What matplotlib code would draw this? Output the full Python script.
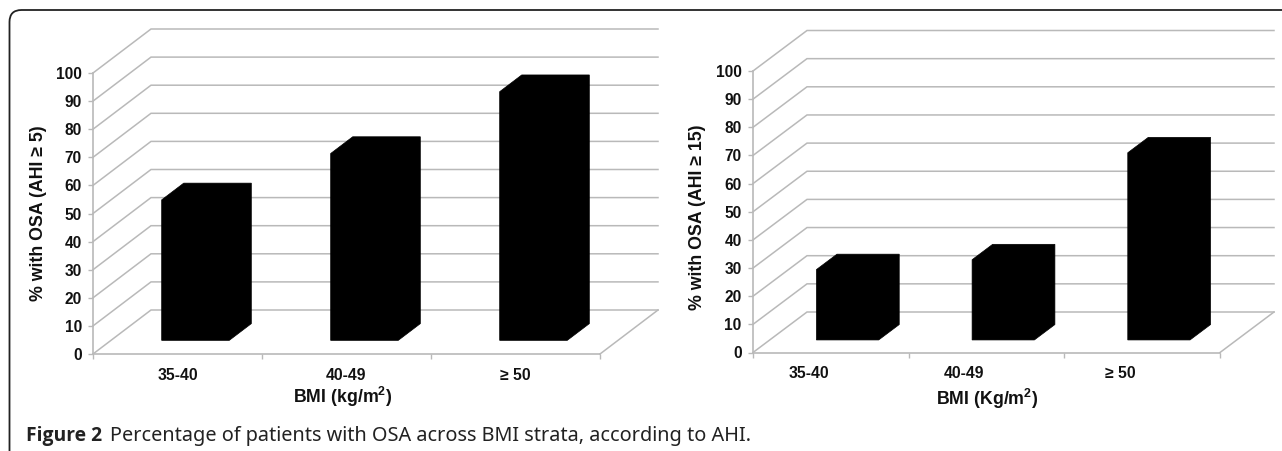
import matplotlib
matplotlib.use("Agg")
import matplotlib.pyplot as plt
from matplotlib.patches import Polygon, PathPatch
from matplotlib.path import Path

categories = ["35-40", "40-49", "\u2265 50"]
values_ahi5 = [50, 66.5, 88.5]
values_ahi15 = [25, 28.5, 66.5]
y_ticks = list(range(0, 101, 10))
ylabels = ["% with OSA (AHI \u2265 5)", "% with OSA (AHI \u2265 15)"]
xlabels = ["BMI (kg/m$^{\\mathbf{2}}$)", "BMI (Kg/m$^{\\mathbf{2}}$)"]

W, H = 1282, 451
GRID = "#b9b9b9"
TXT = "#111111"
plt.rcParams["font.family"] = ["Liberation Sans", "DejaVu Sans"]
plt.rcParams["mathtext.fontset"] = "custom"
plt.rcParams["mathtext.bf"] = "Liberation Sans:bold"
fig = plt.figure(figsize=(W / 100, H / 100), dpi=100, facecolor="white")


def panel(x0, x1, y0, y100, dx_px, dy_px, values, ylabel, xlabel,
          ylabel_xy, xlabel_xy, label_shift_px):
    ax = fig.add_axes([x0 / W, 1 - y0 / H, (x1 - x0) / W, (y0 - y100) / H])
    ax.set_xlim(0, 3)
    ax.set_ylim(0, 100)
    ax.patch.set_visible(False)
    sx = 3 / (x1 - x0)
    sy = 100 / (y0 - y100)
    ddx, ddy = dx_px * sx, dy_px * sy

    def pt(x, y, d):
        return (x + d * ddx, y + d * ddy)

    for t in y_ticks:
        ax.plot(*zip(pt(0, t, 0), pt(0, t, 1), pt(3, t, 1)), color=GRID, lw=1.1,
                clip_on=False, solid_joinstyle="miter", zorder=1)
    ax.plot(*zip(pt(3, 0, 0), pt(3, 0, 1)), color=GRID, lw=1.1, clip_on=False, zorder=1)

    d0, d1 = 0.31, 0.69
    for i, v in enumerate(values):
        l, r = i + 0.3, i + 0.7
        poly = [pt(l, 0, d0), pt(r, 0, d0), pt(r, 0, d1), pt(r, v, d1),
                pt(l, v, d1), pt(l, v, d0)]
        ax.add_patch(Polygon(poly, closed=True, facecolor="black", edgecolor="black",
                             lw=0.5, clip_on=False, zorder=3))

    for s in ("top", "right"):
        ax.spines[s].set_visible(False)
    for s in ("left", "bottom"):
        ax.spines[s].set_color(GRID)
        ax.spines[s].set_linewidth(1.2)
    ax.set_yticks(y_ticks)
    ax.set_xticks([0, 1, 2, 3])
    ax.set_xticklabels([])
    shift = label_shift_px * sx
    ax.set_xticks([i + 0.5 + shift for i in range(3)], minor=True)
    ax.set_xticklabels(categories, minor=True, fontsize=11.3, fontweight="bold", color=TXT)
    ax.tick_params(axis="x", which="minor", length=0, pad=10)
    ax.tick_params(axis="both", which="major", color=GRID, width=1.0, length=3.6)
    ax.tick_params(axis="y", labelsize=11.2, pad=4.5, labelcolor=TXT)
    for lab in ax.get_yticklabels():
        lab.set_fontweight("bold")
    fig.text(ylabel_xy[0] / W, 1 - ylabel_xy[1] / H, ylabel, rotation=90, ha="center",
             va="center", fontsize=12.8, fontweight="bold", color=TXT)
    fig.text(xlabel_xy[0] / W, 1 - xlabel_xy[1] / H, xlabel, ha="center", va="center",
             fontsize=12.8, fontweight="bold", color=TXT)


panel(93, 600, 354, 73, 58, 44, values_ahi5, ylabels[0], xlabels[0], (39, 213), (343, 397), 0)
panel(753, 1220, 352.5, 71, 54, 40.5, values_ahi15, ylabels[1], xlabels[1], (697, 217), (987, 399), -22)

# rounded frame of the figure box
r = 12
verts = [(9.5, H), (9.5, 10 + r), (9.5, 10), (9.5 + r, 10), (W, 10)]
codes = [Path.MOVETO, Path.LINETO, Path.CURVE3, Path.CURVE3, Path.LINETO]
verts = [(x / W, 1 - y / H) for x, y in verts]
fig.add_artist(PathPatch(Path(verts, codes), transform=fig.transFigure, fill=False,
                         edgecolor="#222222", lw=1.3))

fig.text(25.5 / W, 1 - 436 / H, "Figure 2", fontfamily="Open Sans", fontweight="bold",
         fontsize=13.9, color="#222222", va="center", ha="left")
fig.text(110 / W, 1 - 436 / H,
         "Percentage of patients with OSA across BMI strata, according to AHI.",
         fontfamily="Noto Sans", fontsize=14.3, color="#222222", va="center", ha="left")

fig.savefig("out.png", dpi=100)
